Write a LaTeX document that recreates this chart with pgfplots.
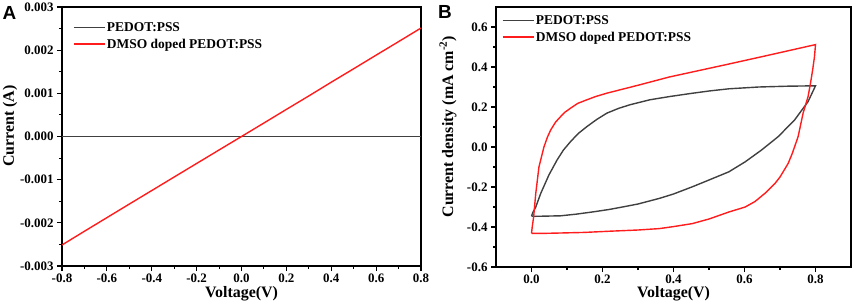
\documentclass[border=0pt]{standalone}
\usepackage{fontspec}
\setmainfont{Liberation Serif}
\newfontfamily\lsans{Liberation Sans}
\usepackage{pgfplots}
\pgfplotsset{compat=1.18}
\definecolor{pgray}{RGB}{64,64,64}
\definecolor{pred}{RGB}{255,28,28}
\pgfplotsset{
  myaxis/.style={
    scale only axis,
    anchor=south west,
    axis line style={line width=1.5bp},
    tick pos=left,
    tick align=outside,
    major tick length=5bp,
    minor tick length=3bp,
    every tick/.append style={black, line width=1.1bp},
    minor tick num=1,
    /pgf/number format/assume math mode=true,
    tick label style={font=\fontsize{13}{15}\selectfont\bfseries},
    xticklabel style={yshift=-1.5bp, inner ysep=1.5bp},
    label style={font=\fontsize{16}{18}\selectfont\bfseries, inner sep=1bp},
    legend style={draw=none, fill=none, font=\fontsize{13.5}{15}\selectfont\bfseries,
      anchor=north west, row sep=3bp, nodes={inner sep=1.5bp}},
    legend cell align=left,
    legend image code/.code={\draw[##1, line width=1.4bp] (0bp,0bp) -- (31bp,0bp);},
    scaled ticks=false,
  }
}
\begin{document}
\begin{tikzpicture}
\path[use as bounding box] (0bp,0bp) rectangle (858bp,308bp);
% Panel A
\begin{axis}[myaxis,
  at={(62bp,42bp)}, width=359bp, height=259bp,
  xmin=-0.8, xmax=0.8, ymin=-0.003, ymax=0.003,
  xtick={-0.8,-0.6,-0.4,-0.2,0,0.2,0.4,0.6,0.8},
  ytick={-0.003,-0.002,-0.001,0,0.001,0.002,0.003},
  xticklabel style={/pgf/number format/.cd, fixed, fixed zerofill, precision=1},
  yticklabel style={/pgf/number format/.cd, fixed, fixed zerofill, precision=3},
  xlabel={Voltage(V)}, ylabel={Current (A)},
  xlabel style={at={(axis description cs:0.5,-0.123)}, anchor=base},
  ylabel style={at={(axis description cs:-0.134,0.54)}, anchor=base},
  legend style={at={(axis description cs:0.022,0.955)}},
]
\addplot[pgray, line width=1.4bp] coordinates {
(-0.8,0) (-0.4,0) (0,0) (0.4,0) (0.8,0)};
\addlegendentry{PEDOT:PSS}
\addplot[pred, line width=1.4bp] coordinates {
(-0.8,-0.002513) (-0.7,-0.002195) (-0.6,-0.001880) (-0.5,-0.001565) (-0.4,-0.001252)
(-0.3,-0.000938) (-0.2,-0.000625) (-0.1,-0.000312) (0,0) (0.1,0.000313)
(0.2,0.000628) (0.3,0.000940) (0.4,0.001258) (0.5,0.001570) (0.6,0.001885)
(0.7,0.002198) (0.8,0.002513)};
\addlegendentry{DMSO doped PEDOT:PSS}
\end{axis}
% Panel B
\begin{axis}[myaxis,
  at={(496bp,41bp)}, width=355bp, height=260bp,
  xmin=-0.1, xmax=0.9, ymin=-0.6, ymax=0.7,
  xtick={0,0.2,0.4,0.6,0.8},
  ytick={-0.6,-0.4,-0.2,0,0.2,0.4,0.6},
  xticklabel style={/pgf/number format/.cd, fixed, fixed zerofill, precision=1},
  yticklabel style={/pgf/number format/.cd, fixed, fixed zerofill, precision=1},
  xlabel={Voltage(V)}, ylabel={Current density (mA cm\textsuperscript{-2})},
  xlabel style={at={(axis description cs:0.5,-0.119)}, anchor=base},
  ylabel style={at={(axis description cs:-0.121,0.54)}, anchor=base},
  legend style={at={(axis description cs:0.008,0.982)}},
]
\addplot[pgray, line width=1.4bp] coordinates {
(0,-0.346) (0.003,-0.33) (0.012,-0.30) (0.026,-0.232) (0.049,-0.14) (0.072,-0.065)
(0.09,-0.015) (0.11,0.027) (0.132,0.068) (0.156,0.102) (0.184,0.138) (0.212,0.169)
(0.245,0.193) (0.277,0.211) (0.333,0.236) (0.388,0.252)
(0.45,0.268) (0.5,0.280) (0.556,0.291) (0.64,0.300) (0.72,0.304) (0.8,0.306)
(0.779,0.227) (0.741,0.135) (0.695,0.052) (0.648,-0.015) (0.602,-0.074)
(0.556,-0.124) (0.50,-0.165) (0.453,-0.199) (0.40,-0.235) (0.36,-0.257)
(0.30,-0.285) (0.268,-0.296) (0.22,-0.312) (0.175,-0.324) (0.125,-0.336)
(0.082,-0.344) (0.03,-0.346) (0,-0.346)};
\addlegendentry{PEDOT:PSS}
\addplot[pred, line width=1.4bp] coordinates {
(0,-0.432) (0.002,-0.40) (0.006,-0.35) (0.012,-0.232) (0.021,-0.099) (0.035,0.0)
(0.045,0.05) (0.054,0.085) (0.068,0.125) (0.082,0.152) (0.095,0.175) (0.11,0.194)
(0.13,0.218) (0.156,0.236) (0.18,0.252) (0.212,0.269) (0.305,0.311)
(0.388,0.35) (0.546,0.411) (0.65,0.452) (0.8,0.512)
(0.797,0.45) (0.792,0.386) (0.786,0.32) (0.779,0.252) (0.765,0.169) (0.751,0.052)
(0.735,-0.03) (0.723,-0.082) (0.700,-0.150) (0.686,-0.182) (0.660,-0.228)
(0.630,-0.272) (0.602,-0.300) (0.556,-0.325) (0.50,-0.36) (0.453,-0.383)
(0.40,-0.398) (0.36,-0.408) (0.3,-0.415) (0.221,-0.421) (0.15,-0.427)
(0.082,-0.43) (0.03,-0.432) (0,-0.432)};
\addlegendentry{DMSO doped PEDOT:PSS}
\end{axis}
\node[font=\lsans\bfseries\fontsize{19}{21}\selectfont, anchor=center] at (9.5bp,295bp) {A};
\node[font=\lsans\bfseries\fontsize{19}{21}\selectfont, anchor=center] at (445bp,296bp) {B};
\end{tikzpicture}
\end{document}
